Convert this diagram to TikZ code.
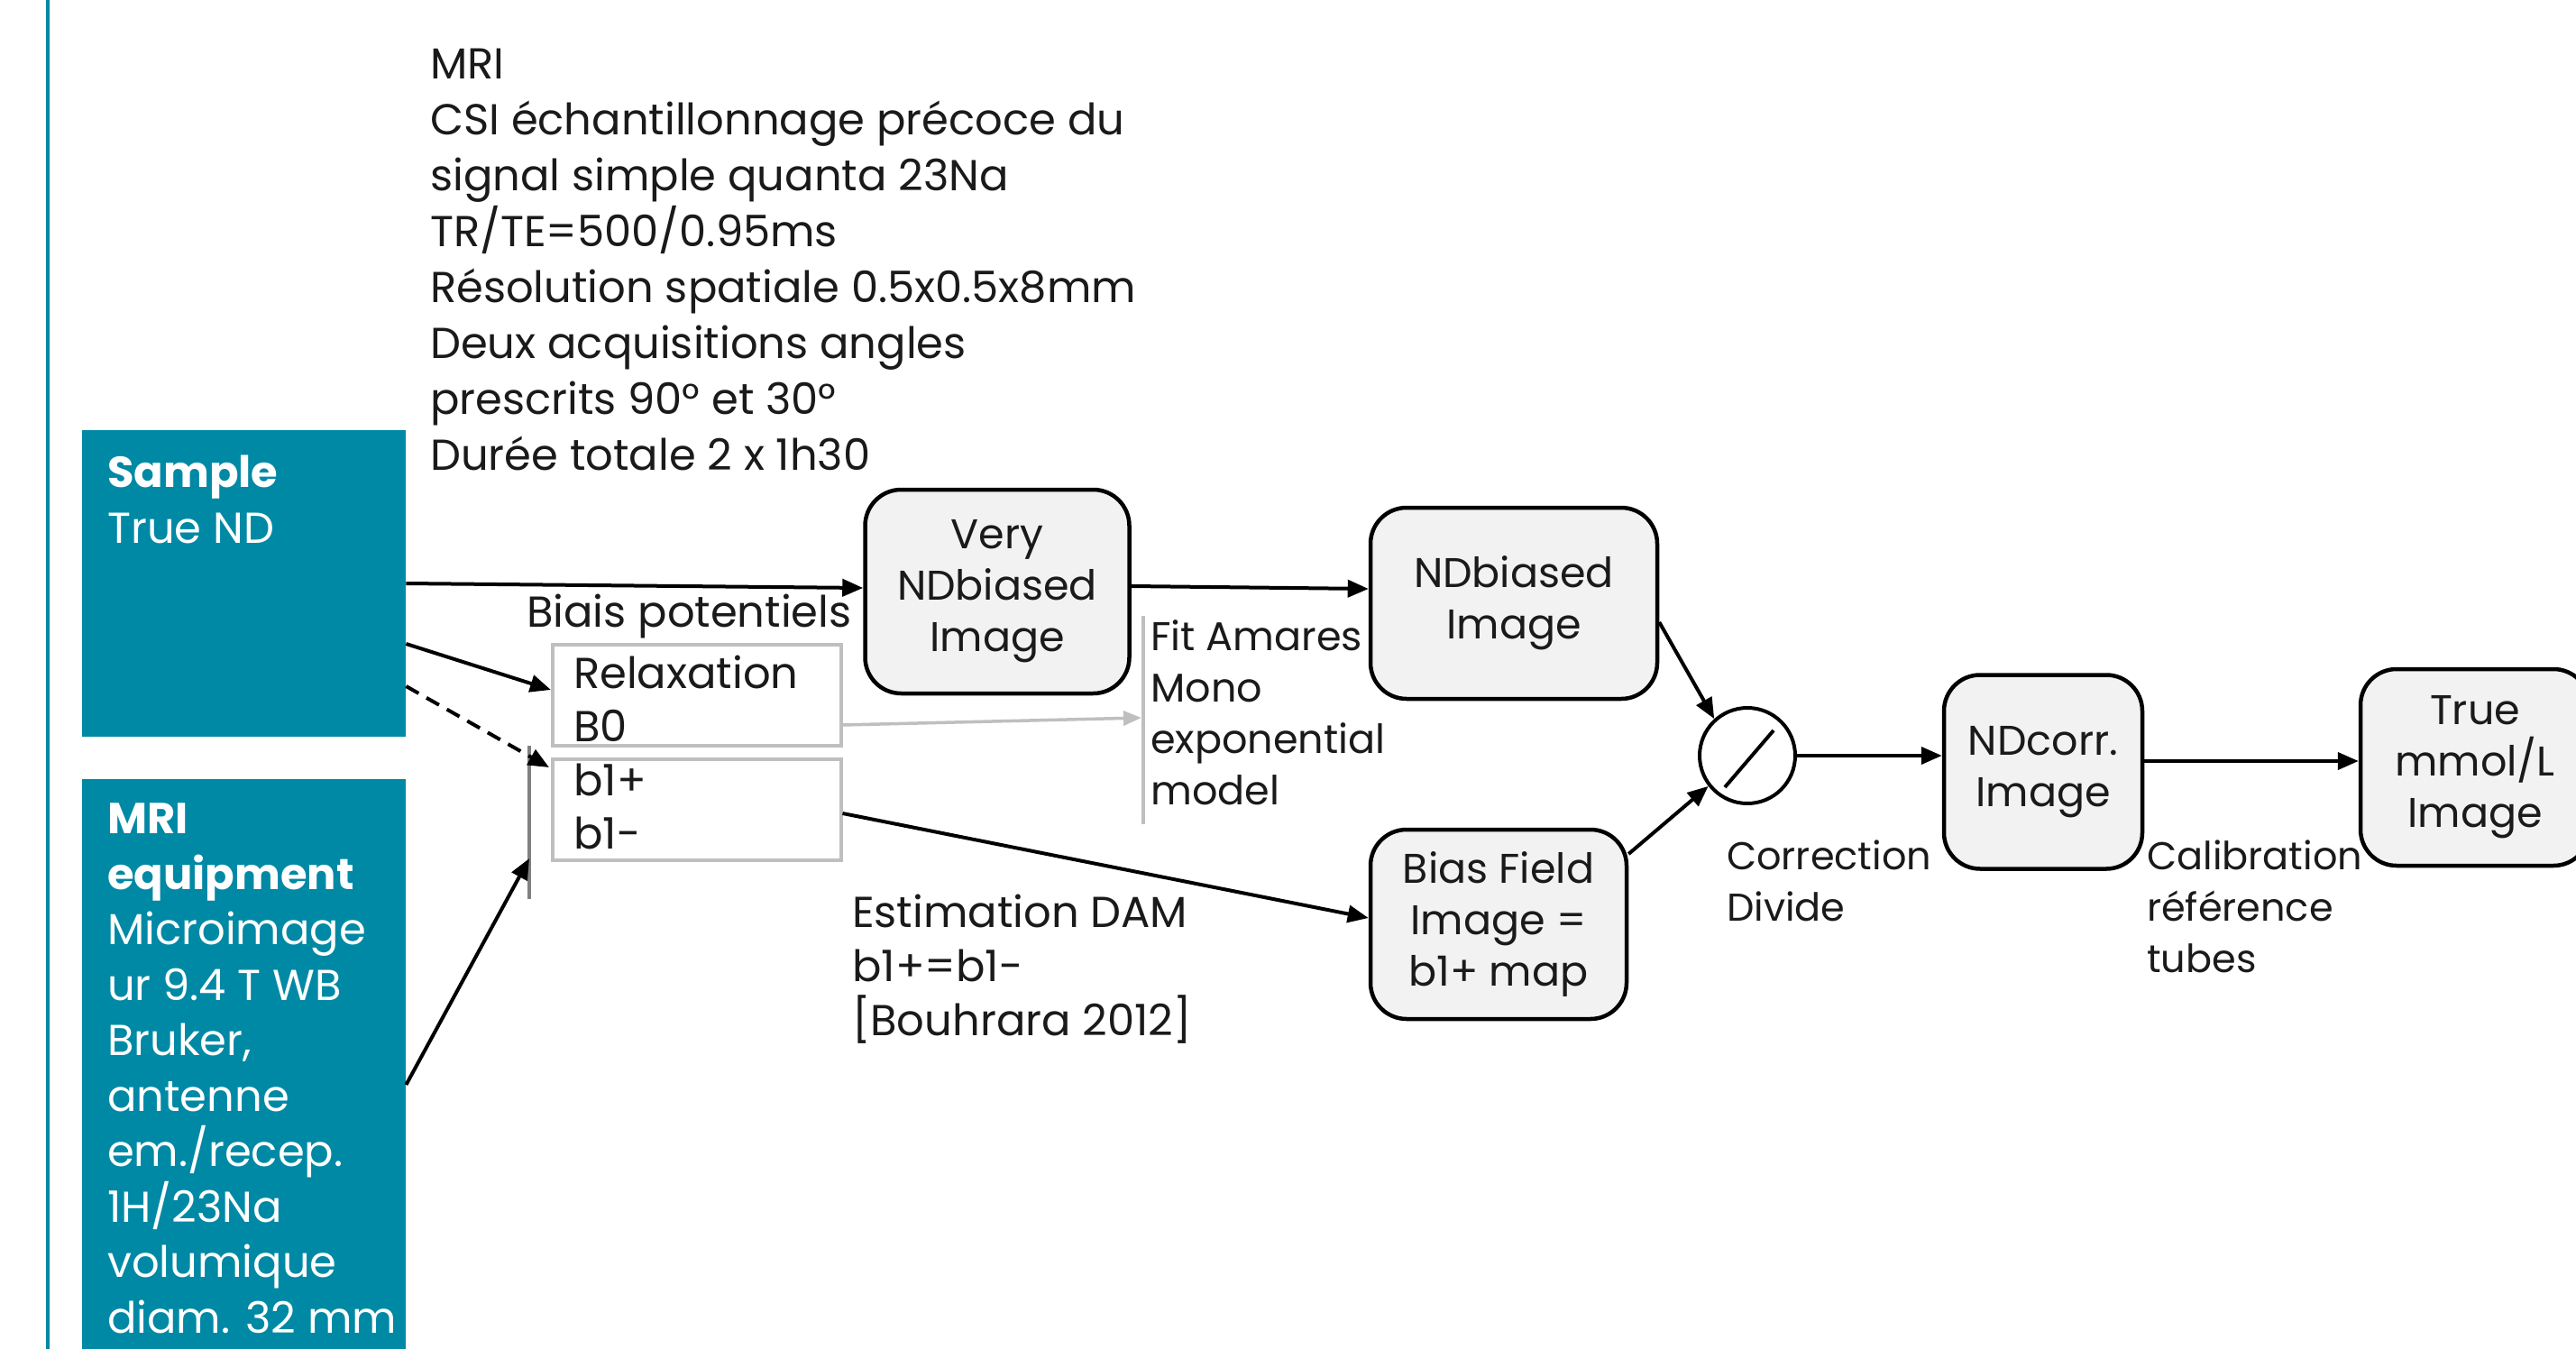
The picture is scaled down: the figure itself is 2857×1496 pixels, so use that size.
\documentclass[tikz,border=0pt]{standalone}
\usepackage{fontspec}
\setmainfont{Poppins}
\usetikzlibrary{arrows.meta}
\definecolor{teal1}{RGB}{0,137,165}
\definecolor{boxfill}{RGB}{242,242,242}
\definecolor{ink}{RGB}{26,26,26}
\definecolor{lgray}{RGB}{191,191,191}
\definecolor{dgray}{RGB}{128,128,128}
\tikzset{
  txt/.style={text=ink, font=\fontsize{48}{62}\selectfont, inner sep=0pt, align=left, anchor=north west},
  smalltxt/.style={text=ink, font=\fontsize{44.5}{57}\selectfont, inner sep=0pt, align=left, anchor=north west},
  imgbox/.style={draw=black, line width=4.5pt, fill=boxfill, rounded corners=40pt, align=center, text=ink, font=\fontsize{46}{57}\selectfont, inner sep=0pt},
  tealrect/.style={fill=teal1, inner sep=0pt, anchor=north west},
  whitetxt/.style={text=white, font=\fontsize{48}{61.5}\selectfont, inner sep=0pt, align=left, anchor=north west},
  grayrect/.style={draw=lgray, line width=3.5pt, inner sep=0pt, anchor=north west},
  arr/.style={draw=black, line width=4pt, -{Triangle[length=23pt,width=19pt]}},
  grayarr/.style={draw=lgray, line width=3.5pt, -{Triangle[length=20pt,width=16pt]}},
}
\begin{document}
\begin{tikzpicture}[x=1pt,y=-1pt]
\useasboundingbox (0,0) rectangle (2857,1496);
\fill[white] (0,0) rectangle (2857,1496);

% left teal rule
\draw[teal1, line width=4pt] (53,-5) -- (53,1501);

% teal boxes
\node[tealrect, minimum width=359pt, minimum height=340pt] (samplebox) at (91,477) {};
\node[whitetxt] (sampletxt) at (119,505) {\textbf{Sample}\\True ND};
\node[tealrect, minimum width=359pt, minimum height=650pt] (mribox) at (91,864) {};
\node[whitetxt] (mritxt) at (119,891) {\textbf{MRI}\\\textbf{equipment}\\Microimage\\ur 9.4 T WB\\Bruker,\\antenne\\em./recep.\\1H/23Na\\volumique\\diam. 32 mm};

% top description
\node[txt] (toptxt) at (477,54) {MRI\\CSI échantillonnage précoce du\\signal simple quanta 23Na\\TR/TE=500/0.95ms\\Résolution spatiale 0.5x0.5x8mm\\Deux acquisitions angles\\prescrits 90° et 30°\\Durée totale 2 x 1h30};

% potential biases
\node[text=ink, font=\fontsize{48}{62}\selectfont, inner sep=0pt, anchor=base west] (biais) at (584,695) {Biais potentiels};
\node[grayrect, minimum width=320pt, minimum height=112pt] (relaxbox) at (611,713) {};
\node[txt, font=\fontsize{48}{59}\selectfont] (relaxtxt) at (636,727) {Relaxation\\B0};
\node[grayrect, minimum width=320pt, minimum height=112pt] (b1box) at (611,840) {};
\node[txt, font=\fontsize{48}{59}\selectfont] (b1txt) at (636,847) {b1+\\b1-};

% vertical bracket lines
\coordinate (vtop) at (587,827);
\coordinate (vbot) at (587,997);
\coordinate (vtip) at (587,952);
\draw[dgray, line width=3.5pt] (vtop) -- (vbot);
\coordinate (ftop) at (1268,683);
\coordinate (fbot) at (1268,914);
\coordinate (ftip) at (1266,796);
\draw[lgray, line width=3.5pt] (ftop) -- (fbot);

% image boxes
\node[imgbox, minimum width=293pt, minimum height=226pt] (verybox) at (1106,656) {Very\\NDbiased\\Image};
\node[imgbox, minimum width=318pt, minimum height=212pt] (ndbbox) at (1679,669) {NDbiased\\Image};
\node[imgbox, minimum width=284pt, minimum height=210pt] (biasbox) at (1662,1025) {Bias Field\\Image =\\b1+ map};
\node[imgbox, minimum width=220pt, minimum height=215pt] (ndcorrbox) at (2266,856) {NDcorr.\\Image};
\node[imgbox, minimum width=254pt, minimum height=218pt] (truebox) at (2745,851) {True\\mmol/L\\Image};

% divide operator
\node[draw=black, line width=4pt, circle, minimum size=106pt, inner sep=0pt] (div) at (1938,838) {};
\draw[line width=4pt] (1913,873) -- (1967,810);

% labels
\node[smalltxt] (fittxt) at (1276,687) {Fit Amares\\Mono\\exponential\\model};
\node[txt, font=\fontsize{48}{60}\selectfont] (esttxt) at (945,992) {Estimation DAM\\b1+=b1-\\{[}Bouhrara 2012{]}};
\node[smalltxt, font=\fontsize{43}{57}\selectfont] (corrtxt) at (1915,932) {Correction\\Divide};
\node[smalltxt, font=\fontsize{43}{57}\selectfont] (calibtxt) at (2381,932) {Calibration\\référence\\tubes};

% connectors
\draw[arr] (samplebox.east |- 0,647) -- (verybox.west |- 0,652);
\draw[arr] (samplebox.east |- 0,714) -- (relaxbox.west |- 0,765);
\draw[arr, dash pattern=on 16pt off 10pt] (samplebox.east |- 0,761) -- ([yshift=-11pt, xshift=-2pt]b1box.north west);
\draw[arr] (mribox.east |- 0,1203) -- (vtip);
\draw[grayarr] (relaxbox.east |- 0,804) -- (ftip);
\draw[arr] (verybox.east |- 0,650) -- (ndbbox.west |- 0,653);
\draw[arr] (b1box.east |- 0,902) -- (biasbox.west |- 0,1018);
\draw[arr] (ndbbox.east |- 0,690) -- (div.132);
\draw[arr] (biasbox.east |- 0,947) -- (div.218);
\draw[arr] (div.east) -- (ndcorrbox.west |- div.east);
\draw[arr] (ndcorrbox.east |- 0,844) -- (truebox.west |- 0,844);
\end{tikzpicture}
\end{document}
